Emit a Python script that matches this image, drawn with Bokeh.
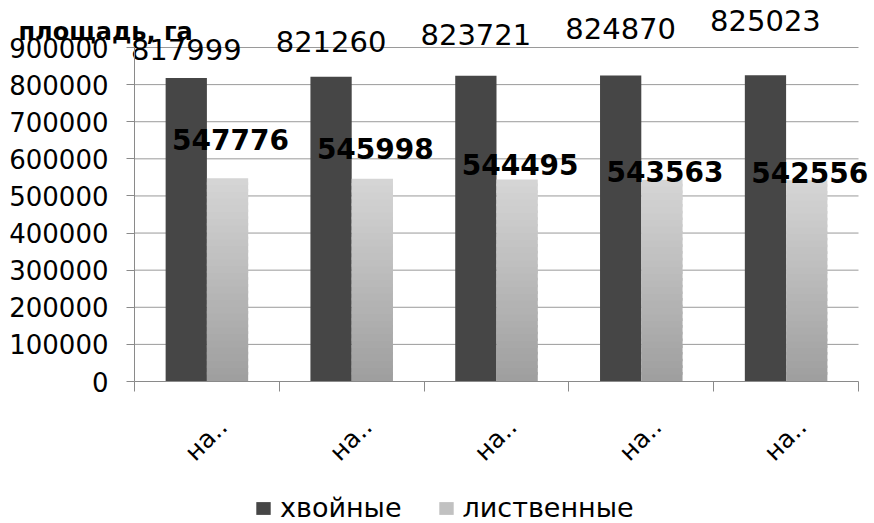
import numpy as np
from bokeh.plotting import figure
from bokeh.models import (ColumnDataSource, Range1d, FixedTicker, Label, Legend,
                          LegendItem, NumeralTickFormatter)
from bokeh.core.properties import value
from bokeh.embed import file_html
from bokeh.resources import INLINE

# ---------------- data ----------------
categories = ["на..", "на..", "на..", "на..", "на.."]
series_names = ["хвойные", "лиственные"]
conifer = [817999, 821260, 823721, 824870, 825023]
deciduous = [547776, 545998, 544495, 543563, 542556]
y_ticks = [0, 100000, 200000, 300000, 400000, 500000, 600000, 700000, 800000, 900000]
y_title = "площадь, га"

# ---------------- style / layout ----------------
FONT = "DejaVu Sans"
DARK = "#464646"
LIGHT_TOP = (0xd6, 0xd6, 0xd6)
LIGHT_BOTTOM = (0x9e, 0x9e, 0x9e)
GRID = "#9a9a9a"
AXIS = "#8a8a8a"
conifer_label_dy = [-28, -35, -41, -47, -55]
decid_label_dy = [-39, -30, -15, -8, -8]
BAR_W = 0.285
N_SEG = 30
W, H = 874, 523
PX_L, PX_R, PX_B, PX_T = 134, 858, 381, 47     # plot area in pixels

n = len(categories)
centers = np.arange(n) + 0.5
dark_x = centers - BAR_W / 2
light_x = centers + BAR_W / 2

ppx = (PX_R - PX_L) / n
ppy = (PX_B - PX_T) / y_ticks[-1]
x_range = Range1d(-PX_L / ppx, n + (W - PX_R) / ppx)
y_range = Range1d(-(H - PX_B) / ppy, y_ticks[-1] + PX_T / ppy)

p = figure(width=W, height=H, x_range=x_range, y_range=y_range, title=None,
           output_backend="svg", toolbar_location=None,
           min_border_left=0, min_border_right=0, min_border_top=0, min_border_bottom=0)
p.outline_line_color = None
p.background_fill_color = "white"
p.border_fill_color = "white"
p.xgrid.visible = False
p.ygrid.visible = False

# horizontal grid lines across the plot area
p.segment(x0=[0] * (len(y_ticks) - 1), x1=[n] * (len(y_ticks) - 1),
          y0=y_ticks[1:], y1=y_ticks[1:], line_color=GRID, line_width=1)

# dark bars
r_dark = p.vbar(x=dark_x, top=conifer, width=BAR_W, fill_color=DARK, line_color=None)

# light bars with vertical gradient
xs, bots, tops, cols = [], [], [], []
for xi, v in zip(light_x, deciduous):
    for k in range(N_SEG):
        t = (k + 0.5) / N_SEG
        c = tuple(int(round(LIGHT_BOTTOM[j] + (LIGHT_TOP[j] - LIGHT_BOTTOM[j]) * t)) for j in range(3))
        xs.append(xi)
        bots.append(v * k / N_SEG)
        tops.append(min(v, v * (k + 1.4) / N_SEG))
        cols.append("#%02x%02x%02x" % c)
r_light = p.vbar(x=xs, bottom=bots, top=tops, width=BAR_W, fill_color=cols, line_color=None)

# data labels
src_c = ColumnDataSource(dict(x=dark_x, y=conifer, t=[str(v) for v in conifer], dy=conifer_label_dy))
p.text(x="x", y="y", text="t", y_offset="dy", source=src_c, text_font=value(FONT),
       text_font_size="29px", text_align="center", text_baseline="alphabetic", text_color="black")
src_d = ColumnDataSource(dict(x=light_x, y=deciduous, t=[str(v) for v in deciduous], dy=decid_label_dy))
p.text(x="x", y="y", text="t", y_offset="dy", x_offset=3, source=src_d, text_font=value(FONT),
       text_font_size="28px", text_font_style="bold", text_align="center",
       text_baseline="alphabetic", text_color="black")

# axes
ya = p.yaxis[0]
ya.fixed_location = 0
ya.ticker = FixedTicker(ticks=y_ticks)
ya.formatter = NumeralTickFormatter(format="0")
ya.bounds = (0, y_ticks[-1])
ya.major_label_text_font = FONT
ya.major_label_text_font_size = "26px"
ya.major_label_text_color = "black"
ya.major_tick_out = 8
ya.major_tick_in = 0
ya.minor_tick_line_color = None
ya.axis_line_color = AXIS
ya.major_tick_line_color = AXIS
ya.major_label_standoff = 18

label_shift = 0.11
xa = p.xaxis[0]
xa.fixed_location = 0
xa.bounds = (0, n)
xa.ticker = FixedTicker(ticks=[float(c + label_shift) for c in centers],
                        minor_ticks=list(range(n + 1)))
xa.major_label_overrides = {float(c + label_shift): lab for c, lab in zip(centers, categories)}
xa.major_label_orientation = np.pi / 4
xa.major_label_text_font = FONT
xa.major_label_text_font_size = "25px"
xa.major_label_text_color = "black"
xa.major_tick_line_color = None
xa.major_tick_out = 0
xa.major_tick_in = 0
xa.minor_tick_out = 10
xa.minor_tick_in = 0
xa.minor_tick_line_color = AXIS
xa.axis_line_color = AXIS
xa.major_label_standoff = 31

# title of the value axis
p.add_layout(Label(x=(18 - PX_L) / ppx, y=(PX_B - 31) / ppy, text=y_title, text_font=FONT,
                   text_font_size="24px", text_font_style="bold", text_color="black",
                   text_baseline="alphabetic"))

# legend
legend = Legend(items=[LegendItem(label=series_names[0], renderers=[r_dark], index=0),
                       LegendItem(label=series_names[1], renderers=[r_light], index=int(N_SEG * 0.6))],
                orientation="horizontal", location=(254, 0),
                border_line_color=None, background_fill_alpha=0,
                label_text_font=FONT, label_text_font_size="27px", label_text_color="black",
                glyph_width=18, glyph_height=16, spacing=35, padding=0, margin=0,
                label_standoff=8)
p.add_layout(legend)

open("out.html", "w").write(file_html(p, INLINE))
